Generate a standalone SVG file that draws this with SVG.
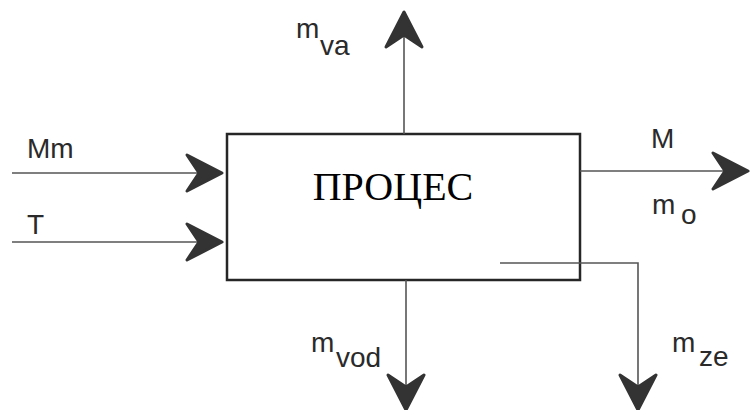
<svg xmlns="http://www.w3.org/2000/svg" width="750" height="410" viewBox="0 0 750 410">
  <style>
    .box { fill: none; stroke: #262626; stroke-width: 2.5; }
    .flow { fill: none; stroke: #555555; stroke-width: 1.6; }
    .lbl { font-family: "Liberation Sans", Arial, sans-serif; font-size: 28px; fill: #2a2a2a; }
    .sub { font-family: "Liberation Sans", Arial, sans-serif; font-size: 28px; fill: #2a2a2a; }
    .title { font-family: "Liberation Serif", "Times New Roman", serif; font-size: 40px; fill: #000000; }
  </style>
  <defs>
    <marker id="arrow" markerUnits="userSpaceOnUse" markerWidth="44" markerHeight="44" viewBox="-40 -22 44 44" refX="0" refY="0" orient="auto">
      <path d="M0,0 L-35,-18 L-23,0 L-35,18 Z" fill="#333333" stroke="#333333" stroke-width="3" stroke-linejoin="round"/>
    </marker>
  </defs>

  <g id="process">
    <rect class="box" x="227" y="134" width="353" height="146"/>
    <text class="title" x="393" y="200" text-anchor="middle">ПРОЦЕС</text>
  </g>

  <g id="connectors">
    <line id="c-mm" class="flow" x1="12" y1="173" x2="222" y2="173" marker-end="url(#arrow)"/>
    <line id="c-t" class="flow" x1="12" y1="242" x2="222" y2="242" marker-end="url(#arrow)"/>
    <line id="c-mva" class="flow" x1="404" y1="134" x2="404" y2="12" marker-end="url(#arrow)"/>
    <line id="c-m" class="flow" x1="580" y1="171" x2="748" y2="171" marker-end="url(#arrow)"/>
    <line id="c-mvod" class="flow" x1="406" y1="280" x2="406" y2="410" marker-end="url(#arrow)"/>
    <polyline id="c-mze" class="flow" points="500,263 638,263 638,410" marker-end="url(#arrow)"/>
  </g>

  <g id="label-mm"><text class="lbl" x="27" y="158">Mm</text></g>
  <g id="label-t"><text class="lbl" x="27" y="234">T</text></g>
  <g id="label-mva"><text class="lbl" x="296" y="38">m</text><text class="sub" x="320" y="55">va</text></g>
  <g id="label-M"><text class="lbl" x="651" y="148">M</text></g>
  <g id="label-mo"><text class="lbl" x="652" y="214">m</text><text class="sub" x="681" y="224">o</text></g>
  <g id="label-mvod"><text class="lbl" x="311" y="352">m</text><text class="sub" x="336" y="367">vod</text></g>
  <g id="label-mze"><text class="lbl" x="672" y="352">m</text><text class="sub" x="699" y="366">ze</text></g>
</svg>
